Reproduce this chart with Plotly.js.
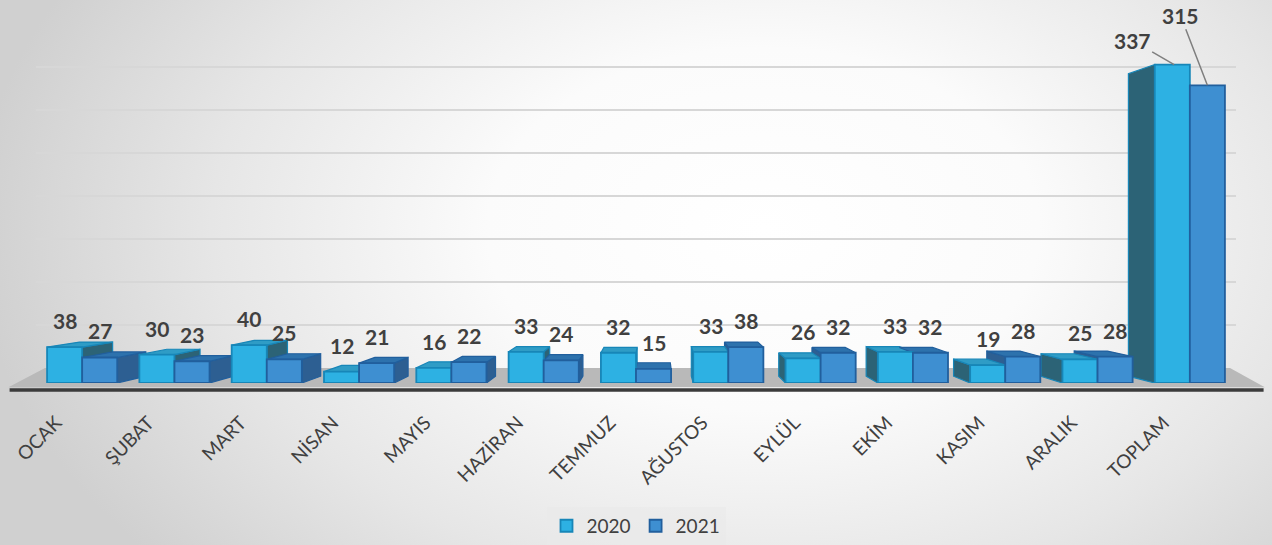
<!DOCTYPE html>
<html>
<head>
<meta charset="utf-8">
<script src="https://cdn.plot.ly/plotly-3.0.1.min.js"></script>
<style>
  html, body { margin:0; padding:0; width:1272px; height:545px; overflow:hidden; }
  body { background: radial-gradient(ellipse 62% 95% at 60% 42%, #ffffff 0%, #fbfbfb 35%, #e6e6e6 70%, #d0d0d0 100%); }
  #chart { width:1272px; height:545px; }
</style>
</head>
<body>
<div id="chart"></div>
<script>
const categories = ['OCAK','ŞUBAT','MART','NİSAN','MAYIS','HAZİRAN','TEMMUZ','AĞUSTOS','EYLÜL','EKİM','KASIM','ARALIK','TOPLAM'];
const series2020 = [38,30,40,12,16,33,32,33,26,33,19,25,337];
const series2021 = [27,23,25,21,22,24,15,38,32,32,28,28,315];
const seriesNames = ['2020','2021'];
const gridValues = [50,100,150,200,250,300,350];

// ---- styling / geometry constants ----
const BW = 0.38;           // bar width in category units
const VX = 6.23, VY = 144; // perspective vanishing point (axis units)
const KX = 0.053, KY = 0.05;
const YMAX = 394.7;
const colFront = ['#2db1e3', '#3e8fd1'];
const colEdge  = ['#1786b8', '#215f9d'];
const colSide  = ['#2c6376', '#2d5f92'];
const colTop   = ['#2f9cc6', '#2d72ad'];

function back(x, y) { return [x + KX * (VX - x), y + KY * (VY - y)]; }

function facePolys(vals, off, kind) {
  const xs = [], ys = [];
  vals.forEach((v, i) => {
    const x0 = i + off, x1 = x0 + BW;
    let pts = null;
    if (kind === 'top' && v < VY) {
      pts = [[x0, v], [x1, v], back(x1, v), back(x0, v)];
    } else if (kind === 'side') {
      if (x1 < VX) pts = [[x1, 0], [x1, v], back(x1, v), back(x1, 0)];
      else if (x0 > VX) pts = [[x0, 0], [x0, v], back(x0, v), back(x0, 0)];
    }
    if (pts) {
      pts.forEach(p => { xs.push(p[0]); ys.push(p[1]); });
      xs.push(pts[0][0]); ys.push(pts[0][1]);
      xs.push(null); ys.push(null);
    }
  });
  return {xs, ys};
}

const allVals = [series2020, series2021];
const offsets = [-BW, 0];
const traces = [];

// carrier for the back-wall grid axis (draws nothing)
traces.push({type: 'scatter', mode: 'lines', x: [null], y: [null], xaxis: 'x', yaxis: 'y3',
             showlegend: false, hoverinfo: 'skip'});

['side', 'top'].forEach(kind => {
  [0, 1].forEach(s => {
    const p = facePolys(allVals[s], offsets[s], kind);
    traces.push({
      type: 'scatter', mode: 'lines', x: p.xs, y: p.ys,
      xaxis: 'x', yaxis: 'y', fill: 'toself', connectgaps: false,
      fillcolor: kind === 'side' ? colSide[s] : colTop[s],
      line: {color: colEdge[s], width: 1.2},
      hoverinfo: 'skip', showlegend: false
    });
  });
});

[0, 1].forEach(s => {
  traces.push({
    type: 'bar', name: seriesNames[s], x: categories, y: allVals[s],
    xaxis: 'x2', yaxis: 'y2',
    marker: {color: colFront[s], line: {color: colEdge[s], width: 1.8}},
    hoverinfo: 'x+y+name'
  });
});

const labelFont = {family: 'Lato, "Open Sans", sans-serif', size: 21, color: '#404040', weight: 'bold'};
const annotations = [];
const last = categories.length - 1;
[0, 1].forEach(s => {
  allVals[s].forEach((v, i) => {
    if (i === last) return;
    annotations.push({
      xref: 'x', yref: 'y', x: i + offsets[s] + BW / 2, y: v,
      text: '<b>' + v + '</b>', showarrow: false, yanchor: 'bottom', yshift: 12,
      font: labelFont
    });
  });
});
annotations.push({
  xref: 'x', yref: 'y', x: last + offsets[0] + BW / 2 + 0.02, y: series2020[last],
  text: '<b>' + series2020[last] + '</b>', showarrow: true, arrowhead: 0, arrowwidth: 1.5,
  arrowcolor: '#7f7f7f', ax: -42, ay: -24, font: labelFont
});
annotations.push({
  xref: 'x', yref: 'y', x: last + offsets[1] + BW / 2, y: series2021[last],
  text: '<b>' + series2021[last] + '</b>', showarrow: true, arrowhead: 0, arrowwidth: 1.5,
  arrowcolor: '#7f7f7f', ax: -27, ay: -70, font: labelFont
});

const layout = {
  width: 1272, height: 545,
  margin: {l: 36, r: 36, t: 10, b: 162, autoexpand: false},
  paper_bgcolor: 'rgba(0,0,0,0)', plot_bgcolor: 'rgba(0,0,0,0)',
  barmode: 'group', bargap: 0.24, bargroupgap: 0,
  showlegend: true,
  legend: {orientation: 'h', x: 0.5, xanchor: 'center', yref: 'container', y: 0.035, yanchor: 'middle',
           bgcolor: 'rgba(234,234,234,0.6)', font: {family: 'Lato, "Open Sans", sans-serif', size: 19, color: '#404040'},
           itemwidth: 30},
  xaxis: {type: 'linear', range: [-0.5, 12.5], tickmode: 'array',
          tickvals: categories.map((c, i) => i), ticktext: categories,
          tickangle: -45, showgrid: false, zeroline: false, showline: false, ticks: '',
          ticklabelstandoff: 24, ticklabelshift: -26, automargin: false,
          tickfont: {family: 'Lato, "Open Sans", sans-serif', size: 19, color: '#404040'}, fixedrange: true},
  yaxis: {range: [0, YMAX], showgrid: false, zeroline: false, showticklabels: false, ticks: '', fixedrange: true, automargin: false},
  yaxis3: {overlaying: 'y', anchor: 'x', range: [-17.44, 416.3], tickmode: 'array',
           tickvals: gridValues, showgrid: true, gridcolor: '#d7d7d7', gridwidth: 2,
           showticklabels: false, zeroline: false, ticks: '', side: 'left', automargin: false, fixedrange: true},
  xaxis2: {overlaying: 'x', anchor: 'y2', type: 'category', range: [-0.5, 12.5], visible: false, fixedrange: true},
  yaxis2: {overlaying: 'y', anchor: 'x2', range: [0, YMAX], visible: false, fixedrange: true},
  shapes: [
    {type: 'path', xref: 'paper', yref: 'paper', layer: 'below',
     path: 'M -0.023 -0.0115 L 0.0075 0.0402 L 0.995 0.0402 L 1.024 -0.0115 Z',
     fillcolor: '#b9b9b9', line: {width: 0}},
    {type: 'line', xref: 'paper', yref: 'paper', layer: 'below',
     x0: -0.022, x1: 1.023, y0: -0.0185, y1: -0.0185, line: {color: '#3b3b3b', width: 3.5}}
  ],
  annotations: annotations
};

Plotly.newPlot('chart', traces, layout, {displayModeBar: false, staticPlot: true});
</script>
</body>
</html>
